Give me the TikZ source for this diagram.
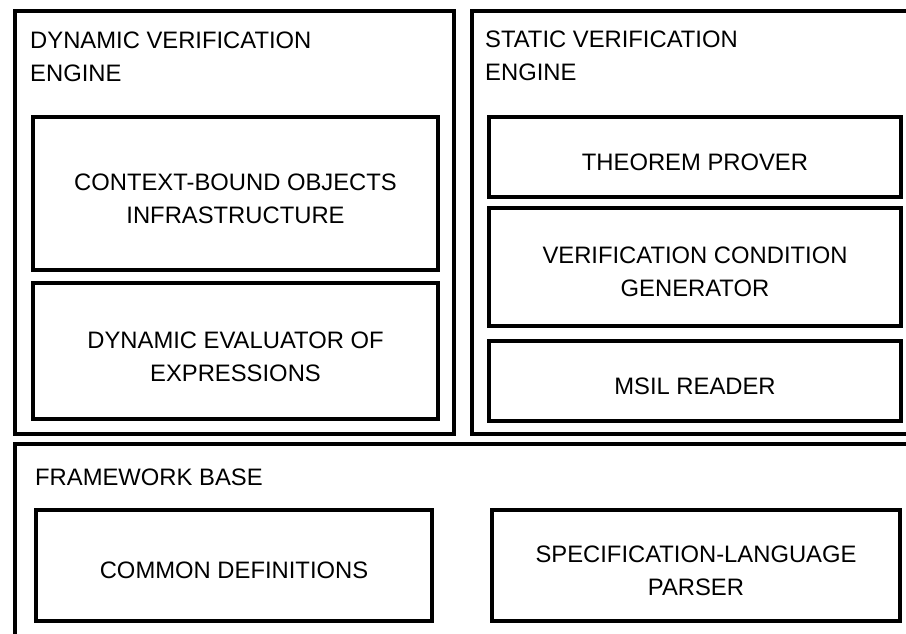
\documentclass[tikz,border=0pt]{standalone}
\usepackage{fontspec}
\setmainfont{Liberation Sans}
\begin{document}
\begin{tikzpicture}[x=1pt,y=-1pt,
  frame/.style={draw, line width=3.8pt, inner sep=0pt},
  lbl/.style={font=\fontsize{23.8}{32.8}\selectfont, align=center, inner sep=0pt},
  hdr/.style={font=\fontsize{23.8}{32.8}\selectfont, align=left, anchor=west, inner sep=0pt}]
\useasboundingbox (0,0) rectangle (906,633);
\clip (0,0) rectangle (906,633);

% outer engines and framework base
\node[frame, minimum width=439pt, minimum height=423pt] (dyn) at (234.5,222.5) {};
\node[frame, minimum width=458pt, minimum height=423pt] (stat) at (701,222.5) {};
\node[frame, minimum width=915pt, minimum height=216pt] (base) at (472.5,552) {};

% dynamic engine components
\node[frame, minimum width=405pt, minimum height=153pt] (cbo) at (235.5,193.5) {};
\node[frame, minimum width=405pt, minimum height=136pt] (dee) at (235.5,351) {};

% static engine components
\node[frame, minimum width=412pt, minimum height=80pt] (tp) at (695,157) {};
\node[frame, minimum width=412pt, minimum height=118pt] (vcg) at (695,267) {};
\node[frame, minimum width=412pt, minimum height=80pt] (msil) at (695,381) {};

% framework base components
\node[frame, minimum width=396pt, minimum height=111pt] (cd) at (234,565.5) {};
\node[frame, minimum width=408pt, minimum height=111pt] (spec) at (696,565.5) {};

% headings
\node[hdr] (dynh) at (30,57) {DYNAMIC VERIFICATION\\ENGINE};
\node[hdr] (stath) at (485,56) {STATIC VERIFICATION\\ENGINE};
\node[hdr] (baseh) at (35,477) {FRAMEWORK BASE};

% component labels
\node[lbl] (cbot) at ([yshift=-5.5pt]cbo.center) {CONTEXT-BOUND OBJECTS\\INFRASTRUCTURE};
\node[lbl] (deet) at ([yshift=-5.5pt]dee.center) {DYNAMIC EVALUATOR OF\\EXPRESSIONS};
\node[lbl] (tpt) at ([yshift=-5pt]tp.center) {THEOREM PROVER};
\node[lbl] (vcgt) at ([yshift=-5pt]vcg.center) {VERIFICATION CONDITION\\GENERATOR};
\node[lbl] (msilt) at ([yshift=-5pt]msil.center) {MSIL READER};
\node[lbl] (cdt) at ([yshift=-5pt]cd.center) {COMMON DEFINITIONS};
\node[lbl] (spect) at ([yshift=-5pt]spec.center) {SPECIFICATION-LANGUAGE\\PARSER};
\end{tikzpicture}
\end{document}
